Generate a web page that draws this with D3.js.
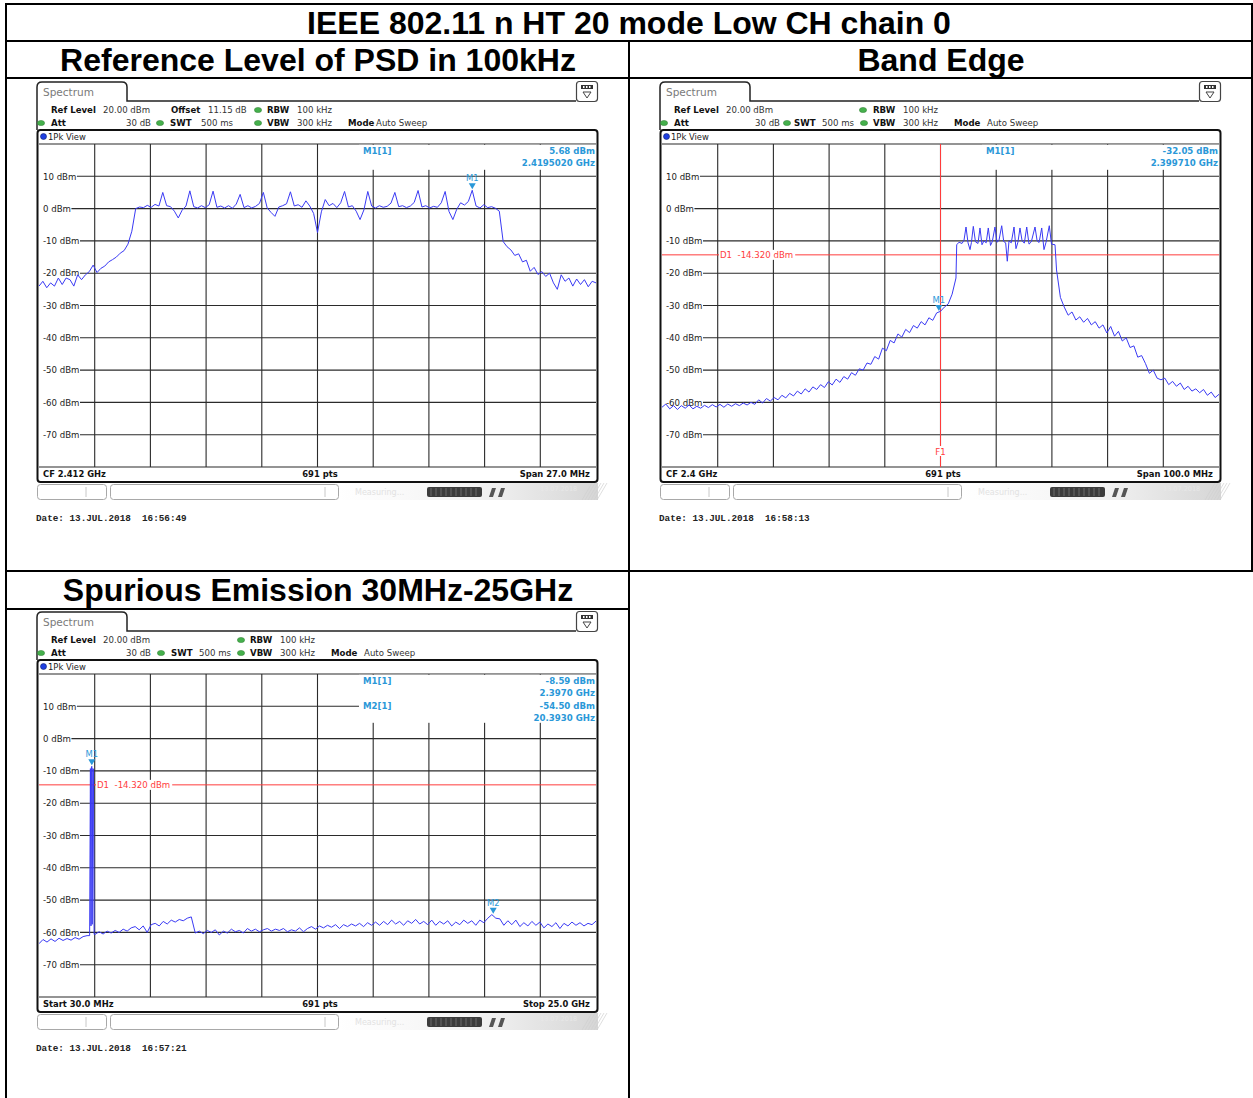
<!DOCTYPE html>
<html>
<head>
<meta charset="utf-8">
<title>IEEE 802.11 n HT 20 mode Low CH chain 0</title>
<script src="https://cdn.jsdelivr.net/npm/d3@7/dist/d3.min.js"></script>
<style>
  html, body { margin: 0; padding: 0; background: #fff; }
  svg { display: block; }
</style>
</head>
<body>
<svg id="chart" width="1253" height="1098"></svg>
<script>
// ---------- measurement data ----------
const levelTicks = [10, 0, -10, -20, -30, -40, -50, -60, -70];
const levelTickLabels = ["10 dBm", "0 dBm", "-10 dBm", "-20 dBm", "-30 dBm", "-40 dBm", "-50 dBm", "-60 dBm", "-70 dBm"];
const levelRange = [-80, 20];               // diagram bottom / top (Ref Level 20 dBm)

// Reference level of PSD: CF 2.412 GHz, span 27 MHz (evenly spaced sweep points)
const psdSweepMHz = [2398.5, 2425.5];
const psdLevels = [
  -24, -22.5, -24.5, -23, -24, -21.5, -23.5, -21.5, -22, -24,
  -20.5, -22, -20.5, -19.5, -17.5, -19.8, -18.5, -17.8, -16.5, -15.8,
  -15, -13.8, -13, -11, -7, 0, 0.5, 0.3, 1.0, 0.4,
  1.3, 0.8, 5.0, 0.9, 0.6, -0.8, -2.9, -0.5, 0.8, 5.5,
  0.6, 0.2, 0.9, 0.3, 1.2, 5.4, 0.4, 0.8, 0.2, 0.9,
  0.1, 1.4, 4.4, 0.3, 0.9, 0.2, 0.7, 1.6, 5.0, 0.2,
  -1.2, -2.4, 0.5, 0.9, 1.5, 5.2, 0.8, 1.2, 0.4, 2.4,
  0.8, -1.5, -7.4, -1.0, 2.8, 0.9, 1.6, 0.3, 1.8, 5.3,
  0.5, 0.9, -0.8, -3.4, -0.4, 5.3, 0.8, 0.2, 0.9, 0.4,
  0.7, 1.7, 5.0, 0.6, 0.9, 0.3, 0.8, 1.9, 5.6, 0.5,
  0.9, 0.2, 0.7, 0.4, 1.8, 5.3, -0.9, -3.4, -0.2, 1.8,
  1.1, 2.2, 5.68, 0.8, 0.2, 1.2, 0.3, 0.6, 0.1, -0.8,
  -10.2, -11.8, -12.8, -14.5, -14.0, -16.5, -16.0, -19.4, -18.2, -20.4,
  -19.5, -21.0, -20.0, -23.0, -25.0, -20.5, -22.5, -21.5, -24.0, -21.8,
  -23.5, -22.0, -24.2, -22.5, -23.0
];
const psdMarkers = [
  { name: "M1", freqMHz: 2419.502, level: 5.68, freqDigits: 7 }
];

// Band edge: CF 2.4 GHz, span 100 MHz (evenly spaced sweep points)
const edgeSweepMHz = [2350, 2450];
const edgeLevels = [
  -61.5, -60.5, -62, -61, -62.2, -61, -61.8, -60.8, -62, -61.2,
  -61.8, -60.9, -61.6, -60.7, -61.4, -60.6, -61.5, -60.5, -61.2, -60.4,
  -61.0, -60.2, -60.8, -60.0, -60.6, -59.2, -60.2, -58.8, -59.6, -58.5,
  -59.2, -57.8, -58.6, -57.2, -58.0, -56.5, -57.4, -55.8, -56.8, -55.2,
  -56.0, -54.5, -55.4, -53.6, -54.6, -52.8, -53.8, -52.0, -52.8, -50.8,
  -51.6, -49.6, -50.0, -47.8, -48.2, -45.8, -46.6, -43.2, -44.0, -40.8,
  -41.6, -38.8, -39.8, -37.4, -38.4, -36.2, -37.0, -35.0, -36.0, -33.8,
  -34.6, -32.3, -31.8, -30.5, -29.5, -26.5, -21.5, -10.8, -10.2, -6.0,
  -11.0, -6.2, -10.5, -6.5, -9.8, -6.3, -11.2, -6.0, -7.5, -16.3,
  -10.3, -6.2, -11.2, -6.4, -10.6, -6.5, -11.5, -6.3, -10.8, -6.0,
  -5.6, -11.0, -19.0, -27.5, -30.5, -33.0, -32.0, -34.5, -33.5, -35.2,
  -34.0, -36.0, -35.0, -37.0, -36.0, -38.5, -36.5, -39.5, -38.0, -41.0,
  -40.0, -43.0, -42.5, -46.0, -45.5, -48.0, -51.0, -50.0, -52.5, -53.0,
  -52.5, -54.5, -53.5, -55.0, -54.0, -56.0, -55.0, -56.5, -55.8, -57.0,
  -56.0, -57.8, -56.8, -58.5, -57.5
];
// in-band top of the channel, read at finer spacing ([MHz, dBm])
const edgeChannelTop = [
  [2402.91, -11.2], [2403.32, -10.4], [2403.86, -10.8], [2404.22, -9.8], [2404.58, -5.7],
  [2404.94, -10.6], [2405.30, -12.7], [2405.55, -10.5], [2405.89, -5.5], [2406.28, -10.3],
  [2406.73, -10.8], [2407.09, -6.0], [2407.45, -11.2], [2407.80, -10.0], [2408.20, -10.6],
  [2408.58, -6.0], [2408.98, -11.4], [2409.30, -10.2], [2409.78, -5.7], [2410.15, -10.4],
  [2410.50, -9.8], [2410.99, -5.3], [2411.35, -10.2], [2411.70, -10.6], [2411.99, -16.3],
  [2412.30, -10.0], [2412.70, -10.6], [2413.20, -5.7], [2413.55, -12.4], [2413.90, -10.4],
  [2414.27, -6.0], [2414.65, -10.0], [2415.05, -10.7], [2415.48, -5.7], [2415.89, -11.0],
  [2416.30, -10.3], [2416.97, -5.7], [2417.35, -10.0], [2417.70, -10.5], [2418.17, -6.0],
  [2418.58, -12.7], [2418.95, -10.4], [2419.53, -5.3], [2419.93, -11.0], [2420.56, -11.2]
];
const edgeMarkers = [
  { name: "M1", freqMHz: 2399.71, level: -32.05, freqDigits: 6 }
];
const edgeDisplayLine = -14.32;   // D1, dBm
const edgeFreqLine = 2400;        // F1, MHz

// Spurious emission: 30 MHz - 25 GHz (evenly spaced sweep points)
const spurSweepMHz = [30, 25000];
const spurLevels = [
  -63.5, -62.2, -63.0, -62.0, -62.8, -61.8, -62.5, -61.9, -62.4, -61.6,
  -62.1, -61.3, -61.0, -60.8, -60.6, -59.8, -60.5, -59.6, -60.2, -59.4,
  -60.0, -59.0, -59.6, -58.6, -58.2, -59.2, -58.0, -60.0, -57.6, -57.2,
  -58.0, -56.6, -57.4, -56.2, -56.8, -56.0, -56.4, -55.6, -55.2, -60.2,
  -59.6, -60.4, -59.4, -60.0, -59.2, -60.8, -59.6, -60.2, -59.0, -59.8,
  -59.4, -60.2, -58.8, -59.6, -59.0, -59.8, -59.2, -58.8, -59.6, -59.0,
  -59.4, -58.8, -59.8, -59.2, -59.6, -58.6, -59.8, -58.8, -58.2, -59.0,
  -58.0, -58.6, -57.8, -58.4, -57.6, -58.8, -57.6, -58.2, -57.4, -58.0,
  -57.2, -58.2, -57.0, -57.8, -56.8, -57.8, -56.6, -57.6, -56.2, -57.4,
  -56.6, -57.8, -56.4, -57.2, -56.0, -57.4, -56.6, -57.6, -56.2, -57.8,
  -56.6, -57.4, -56.4, -58.0, -56.8, -57.6, -56.2, -57.2, -56.4, -57.8,
  -56.2, -57.0, -55.6, -54.5, -55.6, -55.8, -57.8, -56.4, -57.6, -56.2,
  -58.2, -57.0, -58.0, -56.6, -57.8, -56.8, -58.6, -57.4, -58.2, -57.0,
  -58.8, -57.2, -58.0, -56.8, -57.8, -57.0, -58.0, -57.2, -57.6, -56.5
];
// the 2.4 GHz carrier itself, read at finer spacing ([MHz, dBm])
const spurCarrier = [
  [2300, -61.0], [2335, -9.3], [2360, -58.0], [2380, -8.8], [2397, -8.59],
  [2415, -57.5], [2440, -9.2], [2470, -9.4], [2500, -60.6]
];
const spurMarkers = [
  { name: "M1", freqMHz: 2397, level: -8.59, freqDigits: 4 },
  { name: "M2", freqMHz: 20393, level: -54.50, freqDigits: 4 }
];
const spurDisplayLine = -14.32;   // D1, dBm

// ---------- drawing ----------
const FONT = "'DejaVu Sans', Verdana, sans-serif";
const TRACE = "#3a3af4";
const MARK = "#2a98d8";
const RED = "#ff3c3c";
const GRID = "#2b2b2b";

// screen layout of one analyzer screenshot, in panel coordinates
const L = {
  tabX0: 37, tabX1: 127, tabY0: 82, tabY1: 101,
  fx0: 37, fx1: 598, fy0: 130, fy1: 482,
  gx0: 39, gx1: 596, gy0: 144, gy1: 467,
  row0: 110, row1: 123, viewY: 136.5, statusY: 477,
  wy0: 484, wy1: 499, dateY: 521
};

const svg = d3.select("#chart");
const defs = svg.append("defs");
const grad = defs.append("linearGradient").attr("id", "barGrad").attr("x1", 0).attr("x2", 1);
grad.append("stop").attr("offset", 0).attr("stop-color", "#ffffff");
grad.append("stop").attr("offset", 0.55).attr("stop-color", "#f2f2f2");
grad.append("stop").attr("offset", 1).attr("stop-color", "#d6d6d6");

// ---- table frame and headings ----
const table = svg.append("g").attr("stroke", "#000").attr("stroke-width", 2);
[[6, 4, 1252, 4], [6, 41, 1252, 41], [6, 78, 1252, 78], [6, 571, 1252, 571], [6, 609, 629, 609],
 [6, 3, 6, 1098], [1252, 3, 1252, 572], [629, 41, 629, 1098]].forEach(s =>
  table.append("line").attr("x1", s[0]).attr("y1", s[1]).attr("x2", s[2]).attr("y2", s[3]));

const heads = [
  { t: "IEEE 802.11 n HT 20 mode Low CH chain 0", x: 629, y: 34 },
  { t: "Reference Level of PSD in 100kHz", x: 318, y: 71 },
  { t: "Band Edge", x: 941, y: 71 },
  { t: "Spurious Emission 30MHz-25GHz", x: 318, y: 601 }
];
svg.append("g").selectAll("text").data(heads).join("text")
  .attr("x", d => d.x).attr("y", d => d.y).attr("text-anchor", "middle")
  .attr("font-family", "'Liberation Sans', Arial, sans-serif").attr("font-weight", "bold")
  .attr("font-size", 32).attr("fill", "#000").text(d => d.t);

function fmtGHz(mhz, digits) { return (mhz / 1000).toFixed(digits) + " GHz"; }

// sweep points plus an optional finer-read stretch replacing the points it covers
function tracePoints(sweep, levels, detail) {
  const n = levels.length, step = (sweep[1] - sweep[0]) / (n - 1);
  let pts = levels.map((v, i) => [sweep[0] + i * step, v]);
  if (detail) {
    const a = detail[0][0], b = detail[detail.length - 1][0];
    pts = pts.filter(d => d[0] < a || d[0] > b).concat(detail).sort((p, q) => p[0] - q[0]);
  }
  return pts;
}

function drawPanel(p) {
  const g = svg.append("g").attr("transform", `translate(${p.dx},${p.dy})`);
  const x = d3.scaleLinear().domain(p.sweep).range([L.gx0, L.gx1]);
  const y = d3.scaleLinear().domain(levelRange).range([L.gy1, L.gy0]);

  // tab + header outline
  g.append("path")
    .attr("d", `M${L.tabX0},${L.fy0} V${L.tabY0 + 5} Q${L.tabX0},${L.tabY0} ${L.tabX0 + 5},${L.tabY0}` +
               ` H${L.tabX1 - 5} Q${L.tabX1},${L.tabY0} ${L.tabX1},${L.tabY0 + 5} V${L.tabY1} H576`)
    .attr("fill", "none").attr("stroke", "#222").attr("stroke-width", 1.5);
  g.append("text").attr("x", 43).attr("y", 96).attr("font-family", FONT).attr("font-size", 10.5)
    .attr("fill", "#7a7a7a").text("Spectrum");
  // layout icon at top right
  g.append("rect").attr("x", 576.5).attr("y", 81.5).attr("width", 21).attr("height", 20).attr("rx", 3)
    .attr("fill", "#fff").attr("stroke", "#444").attr("stroke-width", 1.2);
  g.append("rect").attr("x", 581).attr("y", 85).attr("width", 12).attr("height", 4).attr("fill", "#333");
  [583, 586, 589].forEach(cx => g.append("rect").attr("x", cx).attr("y", 86).attr("width", 1.5)
    .attr("height", 2).attr("fill", "#fff"));
  g.append("path").attr("d", "M583,92 L591,92 L587,98 Z").attr("fill", "none").attr("stroke", "#444");

  // setting readouts
  const info = g.append("g").attr("font-family", FONT).attr("font-size", 8.6);
  p.info.forEach(it => {
    const yy = it.row === 0 ? L.row0 + 3 : L.row1 + 3;
    if (it.dot !== undefined) {
      info.append("ellipse").attr("cx", it.dot).attr("cy", yy - 3).attr("rx", 3.6).attr("ry", 2.6)
        .attr("fill", "#45b04c").attr("stroke", "#2f7d33").attr("stroke-width", 0.5);
    } else {
      info.append("text").attr("x", it.x).attr("y", yy)
        .attr("text-anchor", it.end ? "end" : "start")
        .attr("font-weight", it.b ? "bold" : "normal")
        .attr("fill", it.b ? "#111" : "#333").text(it.t);
    }
  });

  // diagram frame
  g.append("rect").attr("x", L.fx0 + 0.5).attr("y", L.fy0).attr("width", L.fx1 - L.fx0 - 1)
    .attr("height", L.fy1 - L.fy0).attr("rx", 3).attr("fill", "#fff")
    .attr("stroke", "#111").attr("stroke-width", 2);
  g.append("circle").attr("cx", 43.5).attr("cy", L.viewY).attr("r", 3)
    .attr("fill", "#1f3fe0").attr("stroke", "#10206a").attr("stroke-width", 0.6);
  g.append("text").attr("x", 48).attr("y", L.viewY + 3).attr("font-family", FONT).attr("font-size", 8.4)
    .attr("fill", "#222").text("1Pk View");

  // grid
  const grid = g.append("g").attr("stroke", GRID).attr("stroke-width", 1.1);
  grid.append("line").attr("x1", L.gx0).attr("x2", L.gx1).attr("y1", L.gy0).attr("y2", L.gy0);
  grid.append("line").attr("x1", L.gx0).attr("x2", L.gx1).attr("y1", L.gy1).attr("y2", L.gy1);
  const span = p.sweep[1] - p.sweep[0];
  const vlines = d3.range(1, 10).map(k => p.sweep[0] + k * span / 10);
  grid.selectAll(".v").data(vlines).join("line")
    .attr("x1", d => x(d)).attr("x2", d => x(d)).attr("y1", L.gy0).attr("y2", L.gy1);

  const labels = g.append("g").attr("font-family", FONT).attr("font-size", 8.6).attr("fill", "#222");
  levelTicks.forEach((v, i) => {
    const t = labels.append("text").attr("x", 43).attr("y", y(v) + 3.2).text(levelTickLabels[i]);
    const w = t.node().getComputedTextLength();
    grid.append("line").attr("x1", 43 + w + 0.5).attr("x2", L.gx1).attr("y1", y(v)).attr("y2", y(v));
  });

  // marker readout area
  const boxH = 25 + (p.markers.length - 1) * 23;
  g.append("rect").attr("x", 359).attr("y", L.gy0 + 0.8).attr("width", L.gx1 - 359)
    .attr("height", boxH).attr("fill", "#fff");
  const ro = g.append("g").attr("font-family", FONT).attr("font-size", 8.6)
    .attr("font-weight", "bold").attr("fill", MARK);
  p.markers.forEach((m, k) => {
    const by = L.gy0 + 10 + k * 25;
    ro.append("text").attr("x", 363).attr("y", by).text(`${m.name}[1]`);
    ro.append("text").attr("x", 595).attr("y", by).attr("text-anchor", "end").text(m.level.toFixed(2) + " dBm");
    ro.append("text").attr("x", 595).attr("y", by + 12).attr("text-anchor", "end").text(fmtGHz(m.freqMHz, m.freqDigits));
  });

  // clip region for lines and trace
  const clipId = "clip" + p.id;
  defs.append("clipPath").attr("id", clipId).append("rect")
    .attr("x", L.gx0).attr("y", L.gy0).attr("width", L.gx1 - L.gx0).attr("height", L.gy1 - L.gy0);

  // display line D1
  if (p.dLine !== undefined) {
    g.append("line").attr("x1", L.gx0).attr("x2", L.gx1).attr("y1", y(p.dLine)).attr("y2", y(p.dLine))
      .attr("stroke", RED).attr("stroke-width", 1);
    const lbl = "D1  -" + Math.abs(p.dLine).toFixed(3) + " dBm";
    const t = g.append("text").attr("x", 97).attr("y", y(p.dLine) + 3).attr("font-family", FONT)
      .attr("font-size", 8.6).attr("fill", RED).style("white-space", "pre").text(lbl);
    const w = t.node().getComputedTextLength();
    g.insert("rect", () => t.node()).attr("x", 96).attr("y", y(p.dLine) - 5).attr("width", w + 3)
      .attr("height", 10).attr("fill", "#fff");
  }
  // frequency line F1
  if (p.fLine !== undefined) {
    g.append("line").attr("x1", x(p.fLine)).attr("x2", x(p.fLine)).attr("y1", L.gy0).attr("y2", L.gy1)
      .attr("stroke", RED).attr("stroke-width", 1);
    g.append("rect").attr("x", x(p.fLine) - 6).attr("y", 446).attr("width", 12).attr("height", 10).attr("fill", "#fff");
    g.append("text").attr("x", x(p.fLine)).attr("y", 455).attr("text-anchor", "middle")
      .attr("font-family", FONT).attr("font-size", 8.6).attr("fill", RED).text("F1");
  }

  // trace
  const pts = tracePoints(p.sweep, p.levels, p.detail);
  g.append("path").datum(pts).attr("clip-path", `url(#${clipId})`)
    .attr("d", d3.line().x(d => x(d[0])).y(d => y(d[1])))
    .attr("fill", "none").attr("stroke", TRACE).attr("stroke-width", 1)
    .attr("stroke-linejoin", "round");

  // markers
  p.markers.forEach(m => {
    const mx = x(m.freqMHz), my = y(m.level);
    g.append("path").attr("d", `M${mx - 3.5},${my - 7} L${mx + 3.5},${my - 7} L${mx},${my - 1} Z`)
      .attr("fill", MARK);
    g.append("text").attr("x", mx).attr("y", my - 9).attr("text-anchor", "middle")
      .attr("font-family", FONT).attr("font-size", 8.4).attr("fill", MARK).text(m.name);
  });

  // status line
  const st = g.append("g").attr("font-family", FONT).attr("font-size", 8.4).attr("font-weight", "bold").attr("fill", "#111");
  st.append("text").attr("x", 43).attr("y", L.statusY).text(p.status[0]);
  st.append("text").attr("x", 320).attr("y", L.statusY).attr("text-anchor", "middle").text(p.status[1]);
  st.append("text").attr("x", 590).attr("y", L.statusY).attr("text-anchor", "end").text(p.status[2]);

  // instrument status bar
  const sb = g.append("g");
  sb.append("rect").attr("x", 339).attr("y", L.wy0 - 1).attr("width", 259).attr("height", 17).attr("fill", "url(#barGrad)");
  [[37.5, 69, 86], [110.5, 228, 325]].forEach(b => {
    sb.append("rect").attr("x", b[0]).attr("y", L.wy0 + 0.5).attr("width", b[1]).attr("height", 15).attr("rx", 3)
      .attr("fill", "#fff").attr("stroke", "#a8a8a8");
    sb.append("line").attr("x1", b[2]).attr("x2", b[2]).attr("y1", L.wy0 + 3).attr("y2", L.wy0 + 13).attr("stroke", "#c8c8c8");
  });
  sb.append("text").attr("x", 355).attr("y", L.wy0 + 11).attr("font-family", FONT).attr("font-size", 8)
    .attr("fill", "#e2e2e2").text("Measuring...");
  sb.append("rect").attr("x", 427).attr("y", L.wy0 + 3).attr("width", 55).attr("height", 10).attr("rx", 2).attr("fill", "#3c3c3c");
  d3.range(431, 480, 5).forEach(sx => sb.append("line").attr("x1", sx).attr("x2", sx)
    .attr("y1", L.wy0 + 4).attr("y2", L.wy0 + 12).attr("stroke", "#6a6a6a"));
  sb.append("path").attr("d", `M489,${L.wy0 + 13} L492,${L.wy0 + 4} L496,${L.wy0 + 4} L493,${L.wy0 + 13} Z M498,${L.wy0 + 13} L501,${L.wy0 + 4} L505,${L.wy0 + 4} L502,${L.wy0 + 13} Z`)
    .attr("fill", "#555");
  sb.append("text").attr("x", 540).attr("y", L.wy0 + 7).attr("font-family", FONT).attr("font-size", 6.5)
    .attr("fill", "#e8e8e8").text("13.07.2018");
  d3.range(582, 598, 3).forEach(sx => sb.append("line").attr("x1", sx).attr("y1", L.wy1 + 1)
    .attr("x2", sx + 10).attr("y2", L.wy0 - 1).attr("stroke", "#d0d0d0").attr("stroke-width", 0.7));

  // date stamp
  g.append("text").attr("x", 36).attr("y", L.dateY).attr("font-family", "'Liberation Mono', 'DejaVu Sans Mono', monospace")
    .attr("font-size", 9.3).attr("font-weight", "bold").attr("fill", "#222").style("white-space", "pre").text(p.date);
}

drawPanel({
  id: 1, dx: 0, dy: 0, sweep: psdSweepMHz, levels: psdLevels, markers: psdMarkers,
  status: ["CF 2.412 GHz", "691 pts", "Span 27.0 MHz"], date: "Date: 13.JUL.2018  16:56:49",
  info: [
    { t: "Ref Level", x: 51, row: 0, b: true }, { t: "20.00 dBm", x: 103, row: 0 },
    { t: "Offset", x: 171, row: 0, b: true }, { t: "11.15 dB", x: 208, row: 0 },
    { dot: 258, row: 0 }, { t: "RBW", x: 267, row: 0, b: true }, { t: "100 kHz", x: 297, row: 0 },
    { dot: 41, row: 1 }, { t: "Att", x: 51, row: 1, b: true }, { t: "30 dB", x: 151, row: 1, end: true },
    { dot: 160, row: 1 }, { t: "SWT", x: 170, row: 1, b: true }, { t: "500 ms", x: 233, row: 1, end: true },
    { dot: 258, row: 1 }, { t: "VBW", x: 267, row: 1, b: true }, { t: "300 kHz", x: 297, row: 1 },
    { t: "Mode", x: 348, row: 1, b: true }, { t: "Auto Sweep", x: 376, row: 1 }
  ]
});

drawPanel({
  id: 2, dx: 623, dy: 0, sweep: edgeSweepMHz, levels: edgeLevels, detail: edgeChannelTop,
  markers: edgeMarkers, dLine: edgeDisplayLine, fLine: edgeFreqLine,
  status: ["CF 2.4 GHz", "691 pts", "Span 100.0 MHz"], date: "Date: 13.JUL.2018  16:58:13",
  info: [
    { t: "Ref Level", x: 51, row: 0, b: true }, { t: "20.00 dBm", x: 103, row: 0 },
    { dot: 240, row: 0 }, { t: "RBW", x: 250, row: 0, b: true }, { t: "100 kHz", x: 280, row: 0 },
    { dot: 41, row: 1 }, { t: "Att", x: 51, row: 1, b: true }, { t: "30 dB", x: 157, row: 1, end: true },
    { dot: 164, row: 1 }, { t: "SWT", x: 171, row: 1, b: true }, { t: "500 ms", x: 199, row: 1 },
    { dot: 241, row: 1 }, { t: "VBW", x: 250, row: 1, b: true }, { t: "300 kHz", x: 280, row: 1 },
    { t: "Mode", x: 331, row: 1, b: true }, { t: "Auto Sweep", x: 364, row: 1 }
  ]
});

drawPanel({
  id: 3, dx: 0, dy: 530, sweep: spurSweepMHz, levels: spurLevels, detail: spurCarrier,
  markers: spurMarkers, dLine: spurDisplayLine,
  status: ["Start 30.0 MHz", "691 pts", "Stop 25.0 GHz"], date: "Date: 13.JUL.2018  16:57:21",
  info: [
    { t: "Ref Level", x: 51, row: 0, b: true }, { t: "20.00 dBm", x: 103, row: 0 },
    { dot: 241, row: 0 }, { t: "RBW", x: 250, row: 0, b: true }, { t: "100 kHz", x: 280, row: 0 },
    { dot: 41, row: 1 }, { t: "Att", x: 51, row: 1, b: true }, { t: "30 dB", x: 151, row: 1, end: true },
    { dot: 161, row: 1 }, { t: "SWT", x: 171, row: 1, b: true }, { t: "500 ms", x: 199, row: 1 },
    { dot: 241, row: 1 }, { t: "VBW", x: 250, row: 1, b: true }, { t: "300 kHz", x: 280, row: 1 },
    { t: "Mode", x: 331, row: 1, b: true }, { t: "Auto Sweep", x: 364, row: 1 }
  ]
});
</script>
</body>
</html>
